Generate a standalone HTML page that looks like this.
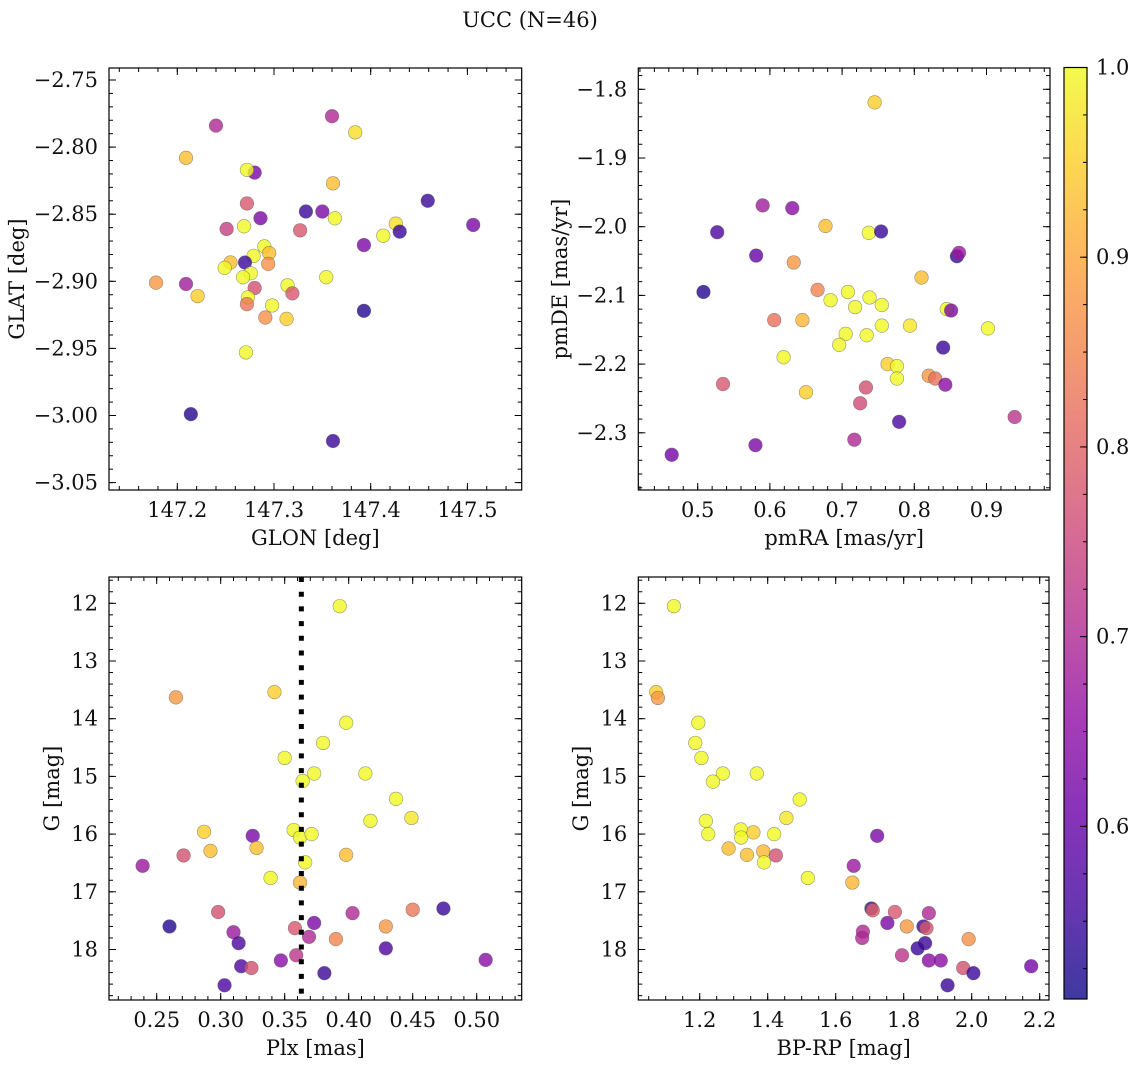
<!DOCTYPE html>
<html><head><meta charset="utf-8"><style>
html,body{margin:0;padding:0;background:#fff;}
svg{display:block;font-family:"DejaVu Serif","Liberation Serif",serif;}
</style></head><body>
<svg id="fig" width="1136" height="1067" viewBox="0 0 1136 1067" xmlns="http://www.w3.org/2000/svg">
<text x="530" y="27" font-size="21" text-anchor="middle" fill="#111">UCC (N=46)</text>
</svg>
<script>
// ---- Panel 1: GLON vs GLAT ----
const glonP1 = [147.240,147.360,147.384,147.209,147.280,147.272,147.361,147.272,147.333,147.350,147.363,147.459,147.286,147.251,147.269,147.327,147.506,147.426,147.430,147.413,147.393,147.290,147.295,147.279,147.255,147.270,147.294,147.249,147.276,147.268,147.354,147.178,147.209,147.314,147.221,147.280,147.319,147.273,147.272,147.298,147.291,147.313,147.393,147.271,147.214,147.361];
const glatP1 = [-2.784,-2.777,-2.789,-2.808,-2.819,-2.817,-2.827,-2.842,-2.848,-2.848,-2.853,-2.840,-2.853,-2.861,-2.859,-2.862,-2.858,-2.857,-2.863,-2.866,-2.873,-2.874,-2.879,-2.881,-2.886,-2.886,-2.887,-2.890,-2.894,-2.897,-2.897,-2.901,-2.902,-2.903,-2.911,-2.905,-2.909,-2.912,-2.917,-2.918,-2.927,-2.928,-2.922,-2.953,-2.999,-3.019];
const probP1 = [0.70,0.70,0.97,0.93,0.63,1.0,0.93,0.78,0.55,0.63,1.0,0.55,0.63,0.74,1.0,0.78,0.63,0.97,0.55,1.0,0.63,1.0,0.93,1.0,0.93,0.55,0.87,1.0,1.0,1.0,1.0,0.88,0.68,1.0,0.95,0.77,0.78,1.0,0.83,1.0,0.87,0.95,0.53,1.0,0.53,0.55];
// ---- Panel 2: pmRA vs pmDE ----
const pmraP2 = [0.745,0.590,0.631,0.677,0.527,0.737,0.754,0.581,0.633,0.859,0.862,0.810,0.508,0.666,0.708,0.684,0.738,0.718,0.755,0.845,0.851,0.606,0.645,0.755,0.794,0.902,0.705,0.734,0.696,0.619,0.840,0.763,0.776,0.776,0.820,0.829,0.843,0.535,0.733,0.650,0.725,0.939,0.779,0.717,0.580,0.464];
const pmdeP2 = [-1.819,-1.969,-1.973,-1.999,-2.008,-2.009,-2.007,-2.042,-2.052,-2.043,-2.038,-2.074,-2.095,-2.092,-2.095,-2.107,-2.103,-2.117,-2.114,-2.120,-2.122,-2.136,-2.136,-2.144,-2.144,-2.148,-2.156,-2.158,-2.172,-2.190,-2.176,-2.200,-2.203,-2.221,-2.217,-2.221,-2.230,-2.229,-2.234,-2.241,-2.257,-2.277,-2.284,-2.310,-2.318,-2.332];
const probP2 = [0.95,0.68,0.65,0.93,0.57,1.0,0.55,0.60,0.88,0.55,0.67,0.93,0.53,0.85,1.0,1.0,1.0,1.0,1.0,1.0,0.63,0.82,0.92,1.0,0.98,1.0,1.0,1.0,1.0,1.0,0.55,0.95,1.0,1.0,0.88,0.82,0.65,0.78,0.77,0.95,0.76,0.72,0.57,0.70,0.63,0.62];
// ---- Panel 3: Plx vs G ----
const plxP3 = [0.393,0.265,0.342,0.398,0.380,0.350,0.373,0.364,0.413,0.437,0.449,0.417,0.287,0.325,0.357,0.362,0.371,0.292,0.328,0.398,0.271,0.239,0.366,0.339,0.362,0.298,0.403,0.450,0.474,0.373,0.260,0.358,0.429,0.310,0.369,0.390,0.314,0.429,0.359,0.347,0.507,0.316,0.324,0.381,0.303];
const gmagP3 = [12.05,13.63,13.54,14.07,14.42,14.68,14.95,15.08,14.95,15.39,15.72,15.77,15.96,16.03,15.93,16.06,16.00,16.29,16.24,16.36,16.37,16.55,16.49,16.76,16.84,17.35,17.37,17.31,17.29,17.54,17.60,17.63,17.60,17.70,17.78,17.82,17.89,17.98,18.10,18.19,18.18,18.29,18.32,18.41,18.62];
const probP3 = [1.0,0.88,0.95,1.0,1.0,1.0,1.0,1.0,1.0,1.0,0.98,1.0,0.95,0.63,1.0,1.0,1.0,0.93,0.93,0.93,0.77,0.67,1.0,1.0,0.92,0.77,0.70,0.83,0.55,0.63,0.53,0.78,0.88,0.67,0.70,0.85,0.57,0.57,0.72,0.65,0.65,0.57,0.77,0.55,0.57];
const plxMedian = [0.363];
// ---- Panel 4: BP-RP vs G ----
const bprpP4 = [1.124,1.072,1.077,1.196,1.187,1.205,1.268,1.239,1.368,1.494,1.455,1.218,1.225,1.321,1.322,1.358,1.419,1.285,1.387,1.339,1.424,1.389,1.518,1.649,1.653,1.722,1.705,1.709,1.774,1.874,1.752,1.809,1.858,1.867,1.680,1.678,1.991,1.863,1.841,1.795,1.874,1.909,1.975,2.005,2.175,1.929];
const gmagP4 = [12.05,13.54,13.64,14.07,14.42,14.68,14.95,15.09,14.95,15.40,15.72,15.77,16.00,15.92,16.06,15.97,16.00,16.25,16.30,16.36,16.37,16.49,16.76,16.84,16.55,16.03,17.29,17.32,17.35,17.37,17.54,17.60,17.60,17.63,17.69,17.80,17.82,17.89,17.98,18.10,18.19,18.19,18.32,18.41,18.29,18.62];
const probP4 = [1.0,0.95,0.88,1.0,1.0,1.0,1.0,1.0,1.0,1.0,0.98,1.0,1.0,1.0,1.0,0.95,1.0,0.93,0.92,0.93,0.77,1.0,1.0,0.92,0.67,0.63,0.55,0.80,0.78,0.70,0.63,0.88,0.55,0.78,0.70,0.70,0.87,0.55,0.55,0.72,0.65,0.65,0.77,0.55,0.62,0.55];
const cbarTicks = [0.6,0.7,0.8,0.9,1.0];

const NS='http://www.w3.org/2000/svg';
const svg=document.getElementById('fig');
const VMIN=0.509, VMAX=1.0;
const FS=21;
const plasma=[[13,8,135],[65,4,157],[106,0,168],[143,13,164],[177,42,144],[204,71,120],[225,100,98],[242,132,75],[252,166,54],[252,206,37],[240,249,33]];
function cmap(p){let t=(p-VMIN)/(VMAX-VMIN);t=Math.max(0,Math.min(1,t));const f=t*10,i=Math.min(9,Math.floor(f)),r=f-i;const a=plasma[i],b=plasma[i+1];return 'rgb('+a.map((c,k)=>Math.round(c+(b[k]-c)*r)).join(',')+')';}
function el(tag,attrs,parent){const e=document.createElementNS(NS,tag);for(const k in attrs)e.setAttribute(k,attrs[k]);(parent||svg).appendChild(e);return e;}
function fmt(v,d){const s=Math.abs(v).toFixed(d);return (v<-1e-9?'\u2212':'')+s;}

function panel(cfg,xs,ys,ps,name){
  const g=el('g',{});
  
  
  const X=v=>cfg.x0p+(v-cfg.x0v)*cfg.xk, Y=v=>cfg.y0p+(v-cfg.y0v)*cfg.yk;
  const L=cfg.L,R=cfg.R,T=cfg.T,B=cfg.B;
  const xmin=cfg.x0v+(L-cfg.x0p)/cfg.xk, xmax=cfg.x0v+(R-cfg.x0p)/cfg.xk;
  const ya=cfg.y0v+(T-cfg.y0p)/cfg.yk, yb=cfg.y0v+(B-cfg.y0p)/cfg.yk;
  const ymin=Math.min(ya,yb), ymax=Math.max(ya,yb);
  const axes=el('g',{},g);
  function ticks(step,ystep,len,isMajor){
    for(let v=Math.ceil(xmin/step-1e-6)*step; v<=xmax+1e-9; v+=step){
      const p=X(v);
      el('line',{x1:p,x2:p,y1:B,y2:B-len,stroke:'#000','stroke-width':1},axes);
      el('line',{x1:p,x2:p,y1:T,y2:T+len,stroke:'#000','stroke-width':1},axes);
      if(isMajor){
        const tl=el('text',{x:p,y:B+27,'font-size':FS,'text-anchor':'middle',fill:'#111'},axes);
        tl.textContent=fmt(v,cfg.xd);
        
        
      }
    }
    for(let v=Math.ceil(ymin/ystep-1e-6)*ystep; v<=ymax+1e-9; v+=ystep){
      const p=Y(v);
      el('line',{x1:L,x2:L+len,y1:p,y2:p,stroke:'#000','stroke-width':1},axes);
      el('line',{x1:R,x2:R-len,y1:p,y2:p,stroke:'#000','stroke-width':1},axes);
      if(isMajor){
        const tl=el('text',{x:L-11,y:p+7,'font-size':FS,'text-anchor':'end',fill:'#111'},axes);
        tl.textContent=fmt(v,cfg.yd);
        
        
      }
    }
  }
  ticks(cfg.xs,cfg.ys,7,true); ticks(cfg.xsm,cfg.ysm,4,false);
  for(let i=0;i<xs.length;i++){
    const c=el('circle',{cx:X(xs[i]),cy:Y(ys[i]),r:6.8,fill:cmap(ps[i]),'fill-opacity':0.8,stroke:'#555','stroke-opacity':0.6,'stroke-width':0.6},g);
    
    
  }
  if(cfg.vline!==undefined){
    const vl=el('line',{x1:X(cfg.vline),x2:X(cfg.vline),y1:T,y2:B,stroke:'#000','stroke-width':5,'stroke-dasharray':'5 9.7'},g);
    
    
  }
  const fr=el('rect',{x:L,y:T,width:R-L,height:B-T,fill:'none',stroke:'#000','stroke-width':1.2},g);
  
  
  const xl=el('text',{x:(L+R)/2,y:B+55,'font-size':FS,'text-anchor':'middle',fill:'#111'},g);
  xl.textContent=cfg.xlabel;
  
  
  const yl=el('text',{x:cfg.ylx,y:(T+B)/2,'font-size':FS,'text-anchor':'middle',fill:'#111',transform:'rotate(-90 '+cfg.ylx+' '+((T+B)/2)+')'},g);
  yl.textContent=cfg.ylabel;
  
  
}

panel({L:109,R:521.7,T:68,B:490,x0v:147.2,x0p:177.3,xk:967,y0v:-2.75,y0p:80,yk:-1342,xs:0.1,xsm:0.02,ys:0.05,ysm:0.01,xd:1,yd:2,xlabel:'GLON [deg]',ylabel:'GLAT [deg]',ylx:24},glonP1,glatP1,probP1,'glon-glat-panel');
panel({L:638.3,R:1050,T:68,B:490,x0v:0.5,x0p:697.7,xk:722,y0v:-1.8,y0p:89.3,yk:-687,xs:0.1,xsm:0.02,ys:0.1,ysm:0.02,xd:1,yd:1,xlabel:'pmRA [mas/yr]',ylabel:'pmDE [mas/yr]',ylx:567},pmraP2,pmdeP2,probP2,'pm-panel');
panel({L:109,R:521.7,T:577,B:1000,x0v:0.25,x0p:156.7,xk:1280,y0v:12,y0p:603.3,yk:57.7,xs:0.05,xsm:0.01,ys:1,ysm:0.2,xd:2,yd:0,xlabel:'Plx [mas]',ylabel:'G [mag]',ylx:59,vline:plxMedian[0]},plxP3,gmagP3,probP3,'plx-g-panel');
panel({L:638.3,R:1049,T:577,B:1000,x0v:1.2,x0p:699.7,xk:340,y0v:12,y0p:603.3,yk:57.7,xs:0.2,xsm:0.05,ys:1,ysm:0.2,xd:1,yd:0,xlabel:'BP-RP [mag]',ylabel:'G [mag]',ylx:588},bprpP4,gmagP4,probP4,'cmd-panel');

const cb=el('g',{});


const CL=1064,CR=1087,CT=67.5,CB=999;
const CY=v=>CB-(v-VMIN)/(VMAX-VMIN)*(CB-CT);
const defs=el('defs',{},cb);
const lg=el('linearGradient',{id:'cbg',x1:0,y1:1,x2:0,y2:0},defs);
for(let i=0;i<=20;i++){const t=i/20;el('stop',{offset:t,'stop-color':cmap(VMIN+t*(VMAX-VMIN)),'stop-opacity':0.8},lg);}
el('rect',{x:CL,y:CT,width:CR-CL,height:CB-CT,fill:'url(#cbg)',stroke:'#000','stroke-width':1.2},cb);
for(let v=0.525; v<=1.0001; v+=0.025){const p=CY(v);el('line',{x1:CR,x2:CR-4,y1:p,y2:p,stroke:'#000','stroke-width':1},cb);}
cbarTicks.forEach(v=>{const p=CY(v);el('line',{x1:CR,x2:CR-7,y1:p,y2:p,stroke:'#000','stroke-width':1},cb);
  const t=el('text',{x:CR+9,y:p+7,'font-size':FS,fill:'#111'},cb);t.textContent=v.toFixed(1);
  
  });
</script>
</body></html>
